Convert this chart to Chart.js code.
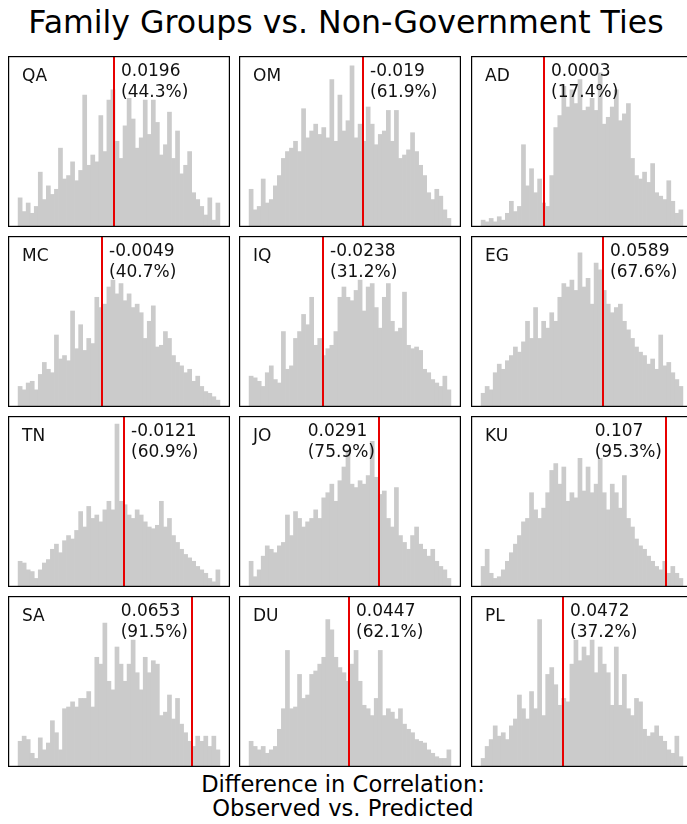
<!DOCTYPE html>
<html>
<head>
<meta charset="utf-8">
<script src="https://cdn.jsdelivr.net/npm/chart.js@4.4.1/dist/chart.umd.min.js"></script>
<style>
  html, body { margin: 0; padding: 0; background: #fff; overflow: hidden; }
  body { width: 687px; height: 824px; position: relative; font-family: "DejaVu Sans", sans-serif; color: #000; }
  #title { position: absolute; left: 0; width: 692px; top: 4px; text-align: center; font-size: 31.6px; line-height: 36px; white-space: nowrap; }
  #xlabel { position: absolute; left: 0; width: 686px; top: 773px; text-align: center; font-size: 22.6px; line-height: 23.5px; white-space: nowrap; }
  canvas { position: absolute; }
</style>
</head>
<body>
<div id="title">Family Groups vs. Non-Government Ties</div>
<div id="xlabel">Difference in Correlation:<br>Observed vs. Predicted</div>
<script>
// Country codes, in panel order (row by row)
const codes = ['QA', 'OM', 'AD', 'MC', 'IQ', 'EG', 'TN', 'JO', 'KU', 'SA', 'DU', 'PL'];

// Observed difference in correlation and its percentile among the simulated values
const observed   = [0.0196, -0.019, 0.0003, -0.0049, -0.0238, 0.0589, -0.0121, 0.0291, 0.107, 0.0653, 0.0447, 0.0472];
const percentile = [44.3, 61.9, 17.4, 40.7, 31.2, 67.6, 60.9, 75.9, 95.3, 91.5, 62.1, 37.2];

// Range covered by the histogram bins of each panel
const rangeLo = [-0.1226, -0.1879, -0.0936, -0.1291, -0.1330, -0.1217, -0.1696, -0.1644, -0.1675, -0.1927, -0.1038, -0.0743];
const rangeHi = [ 0.1774,  0.1121,  0.2064,  0.1709,  0.1670,  0.1783,  0.1304,  0.1356,  0.1325,  0.1073,  0.1962,  0.2257];

// Simulated distributions: counts per bin
const histQA = [17,9,14,8,12,32,16,24,19,22,46,28,30,38,27,33,77,36,42,38,65,44,74,80,50,40,59,75,63,46,52,74,54,74,61,42,48,67,40,56,31,36,44,20,16,12,7,17,4,14];
const histOM = [22,10,12,28,14,16,24,30,40,44,46,50,44,69,52,56,60,54,58,52,86,50,77,56,62,94,52,60,50,70,60,48,54,56,68,50,68,40,42,45,55,44,36,30,20,16,22,18,10,5];
const histAD = [4,3,5,3,6,4,8,15,9,12,48,24,34,20,28,14,12,30,58,65,82,70,80,72,86,68,70,75,68,90,60,64,70,80,62,66,72,40,30,28,32,26,37,20,18,16,27,15,8,10];
const histMC = [12,10,14,15,10,19,26,22,20,42,28,30,27,56,34,48,33,40,37,64,58,60,70,74,66,72,62,66,58,60,55,40,50,59,35,36,44,40,30,26,24,20,22,15,18,12,9,8,6,4];
const histIQ = [18,17,15,12,20,24,16,14,44,22,24,40,44,54,48,64,36,40,30,34,36,44,64,70,64,62,68,74,56,70,72,58,46,64,72,50,44,46,67,36,34,35,33,22,20,16,14,12,18,10];
const histEG = [8,12,10,20,25,22,27,30,35,32,38,50,40,58,40,50,46,55,50,64,72,70,74,68,90,70,75,60,84,80,68,60,55,58,60,50,45,40,35,32,30,25,28,22,42,24,26,20,16,12];
const histTN = [15,14,10,9,5,10,14,16,22,25,20,27,30,28,33,44,35,47,40,42,38,45,50,45,95,50,48,42,40,45,42,38,35,34,36,50,35,40,30,26,22,19,17,15,12,10,8,5,3,10];
const histJO = [15,6,10,18,24,22,20,24,26,42,30,44,40,35,38,40,45,40,52,55,60,50,62,70,80,60,58,62,60,65,85,64,54,56,40,35,58,30,26,22,30,35,25,22,18,22,15,12,10,5];
const histKU = [12,22,8,5,6,10,15,20,25,30,38,40,55,45,40,46,55,68,72,60,70,50,55,52,75,56,70,55,60,75,55,45,60,55,46,65,40,35,28,24,22,18,15,12,10,15,8,12,8,5];
const histSA = [15,18,16,8,5,17,10,14,27,20,10,34,35,38,35,40,40,44,35,64,60,84,50,45,70,60,50,60,74,55,45,64,55,62,60,30,32,42,28,40,25,20,15,12,18,15,18,12,18,10];
const histDU = [15,12,10,12,8,10,12,22,34,68,34,35,54,40,42,54,56,60,64,86,80,64,58,55,50,60,68,50,36,34,30,40,68,30,34,32,28,34,25,22,20,16,15,14,10,8,6,5,5,10];
const histPL = [5,12,16,24,18,20,16,24,28,42,34,28,44,34,86,30,54,58,48,36,40,38,60,74,62,70,65,74,55,70,60,55,36,70,36,54,34,30,40,38,22,18,20,24,18,15,10,8,18,6];

const hists = [histQA, histOM, histAD, histMC, histIQ, histEG, histTN, histJO, histKU, histSA, histDU, histPL];

// Layout of the 4 x 3 grid of panels
const colLeft = [8, 239, 471];
const rowTop = [56, 236, 416, 596];
const panelW = 222, panelH = 171;

// All panels share one count axis
const yMax = Math.max(...hists.map(h => Math.max(...h))) * 1.05;

const FONT = '17px "DejaVu Sans", sans-serif';

// Draws the frame, the observed-value marker and the panel texts
const panelDecor = {
  id: 'panelDecor',
  afterDatasetsDraw(chart, args, opts) {
    const { ctx, chartArea: a, scales: { x } } = chart;
    const i = opts.index;
    const lx = Math.round(x.getPixelForValue(observed[i]));
    ctx.save();
    // observed value
    ctx.strokeStyle = '#e80000';
    ctx.lineWidth = 2;
    ctx.beginPath();
    ctx.moveTo(lx, a.top);
    ctx.lineTo(lx, a.bottom);
    ctx.stroke();
    // frame
    ctx.strokeStyle = '#000';
    ctx.lineWidth = 1.2;
    ctx.strokeRect(a.left + 0.6, a.top + 0.6, a.width - 1.2, a.height - 1.2);
    // texts
    ctx.fillStyle = '#111';
    ctx.font = FONT;
    ctx.textBaseline = 'middle';
    ctx.textAlign = 'left';
    ctx.fillText(codes[i], a.left + 14, a.top + 21);
    const l1 = String(observed[i]);
    const l2 = '(' + percentile[i].toFixed(1) + '%)';
    let tx;
    if (percentile[i] > 70) {
      const w = Math.max(ctx.measureText(l1).width, ctx.measureText(l2).width);
      tx = lx - 4 - w;
    } else {
      tx = lx + 7;
    }
    ctx.fillText(l1, tx, a.top + 15.5);
    ctx.fillText(l2, tx, a.top + 37);
    ctx.restore();
  }
};

hists.forEach((hist, i) => {
  const cv = document.createElement('canvas');
  cv.width = panelW;
  cv.height = panelH;
  cv.style.left = colLeft[i % 3] + 'px';
  cv.style.top = rowTop[Math.floor(i / 3)] + 'px';
  cv.style.width = panelW + 'px';
  cv.style.height = panelH + 'px';
  document.body.appendChild(cv);

  const lo = rangeLo[i], hi = rangeHi[i];
  const bw = (hi - lo) / hist.length;
  const pad = 0.05 * (hi - lo);

  new Chart(cv, {
    type: 'bar',
    data: {
      datasets: [{
        data: hist.map((c, k) => ({ x: lo + (k + 0.5) * bw, y: c })),
        backgroundColor: '#cbcbcb',
        borderWidth: 0,
        barPercentage: 1,
        categoryPercentage: 1,
        grouped: false
      }]
    },
    options: {
      responsive: false,
      animation: false,
      devicePixelRatio: 1,
      events: [],
      layout: { padding: 0 },
      plugins: {
        legend: { display: false },
        tooltip: { enabled: false },
        title: { display: false },
        panelDecor: { index: i }
      },
      scales: {
        x: { type: 'linear', min: lo - pad, max: hi + pad, display: false, offset: false },
        y: { min: 0, max: yMax, display: false }
      }
    },
    plugins: [panelDecor]
  });
});
</script>
</body>
</html>
